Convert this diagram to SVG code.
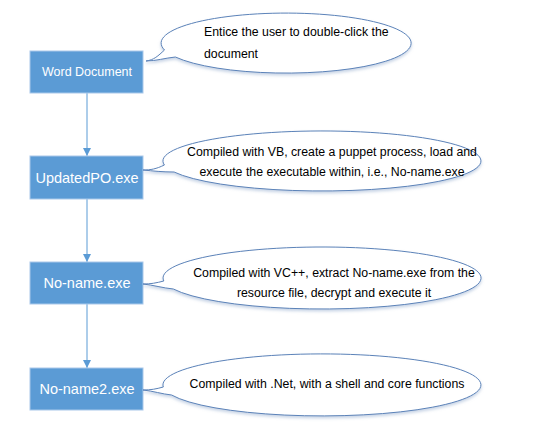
<svg xmlns="http://www.w3.org/2000/svg" width="542" height="425" viewBox="0 0 542 425">
<defs>
<style>
.box{fill:#5B9BD5;stroke:#A9C8EA;stroke-width:1}
.bt{fill:#fff;font-family:"Liberation Sans",Arial,sans-serif;text-anchor:middle}
.call{fill:#fff;stroke:#5B82B8;stroke-width:1}
.ct{fill:#000;font-family:"Liberation Sans",Arial,sans-serif;font-size:12.3px}
.conn{stroke:#5B9BD5;stroke-width:1;fill:none}
</style>
<filter id="sh" x="-10%" y="-20%" width="120%" height="150%">
<feDropShadow dx="0" dy="2" stdDeviation="1.5" flood-color="#8fa8cc" flood-opacity="0.5"/>
</filter>
<marker id="ah" viewBox="0 0 10 10" refX="10" refY="5" markerWidth="8" markerHeight="8" markerUnits="userSpaceOnUse" orient="auto">
<path d="M0,0 L10,5 L0,10 Z" fill="#5B9BD5"/>
</marker>
</defs>
<rect width="542" height="425" fill="#fff"/>
<g id="connectors">
<line class="conn" x1="87" y1="93" x2="87" y2="156" marker-end="url(#ah)"/>
<line class="conn" x1="87" y1="199" x2="87" y2="262" marker-end="url(#ah)"/>
<line class="conn" x1="87" y1="304" x2="87" y2="368" marker-end="url(#ah)"/>
</g>
<g id="node-word">
<rect class="box" x="30" y="51" width="113" height="42"/>
<text class="bt" x="87" y="76" font-size="12.5">Word Document</text>
</g>
<g id="node-updatedpo">
<rect class="box" x="30" y="156" width="113" height="43"/>
<text class="bt" x="87" y="183" font-size="14.5">UpdatedPO.exe</text>
</g>
<g id="node-noname">
<rect class="box" x="30" y="262" width="113" height="42"/>
<text class="bt" x="87" y="288" font-size="14.5">No-name.exe</text>
</g>
<g id="node-noname2">
<rect class="box" x="30" y="368" width="113" height="42"/>
<text class="bt" x="87" y="394" font-size="14.5">No-name2.exe</text>
</g>
<g id="callout-1">
<path class="call" filter="url(#sh)" d="M164.5,50 C158,56 154,60 146,61 C156,61 165,58 175.4,57 A125,30 0 1 0 164.5,50 Z"/>
<text class="ct" x="204" y="36">Entice the user to double-click the</text>
<text class="ct" x="204" y="58">document</text>
</g>
<g id="callout-2">
<path class="call" filter="url(#sh)" d="M164.4,165 C156,169 151,170 143,170 C153,171 163,172 174.1,172 A159,30 0 1 0 164.4,165 Z"/>
<text class="ct" x="332" y="156" text-anchor="middle">Compiled with VB, create a puppet process, load and</text>
<text class="ct" x="332" y="176" text-anchor="middle">execute the executable within, i.e., No-name.exe</text>
</g>
<g id="callout-3">
<path class="call" filter="url(#sh)" d="M163.8,281 C156,283 151,284 143,284 C153,285 163,288 173.4,289 A159,31 0 1 0 163.8,281 Z"/>
<text class="ct" x="334" y="277" text-anchor="middle">Compiled with VC++, extract No-name.exe from the</text>
<text class="ct" x="334" y="297" text-anchor="middle">resource file, decrypt and execute it</text>
</g>
<g id="callout-4">
<path class="call" filter="url(#sh)" d="M163.3,387 C156,389 151,390 143,390 C153,391 162,394 171.6,395 A159,31 0 1 0 163.3,387 Z"/>
<text class="ct" x="327" y="388" text-anchor="middle">Compiled with .Net, with a shell and core functions</text>
</g>
</svg>
